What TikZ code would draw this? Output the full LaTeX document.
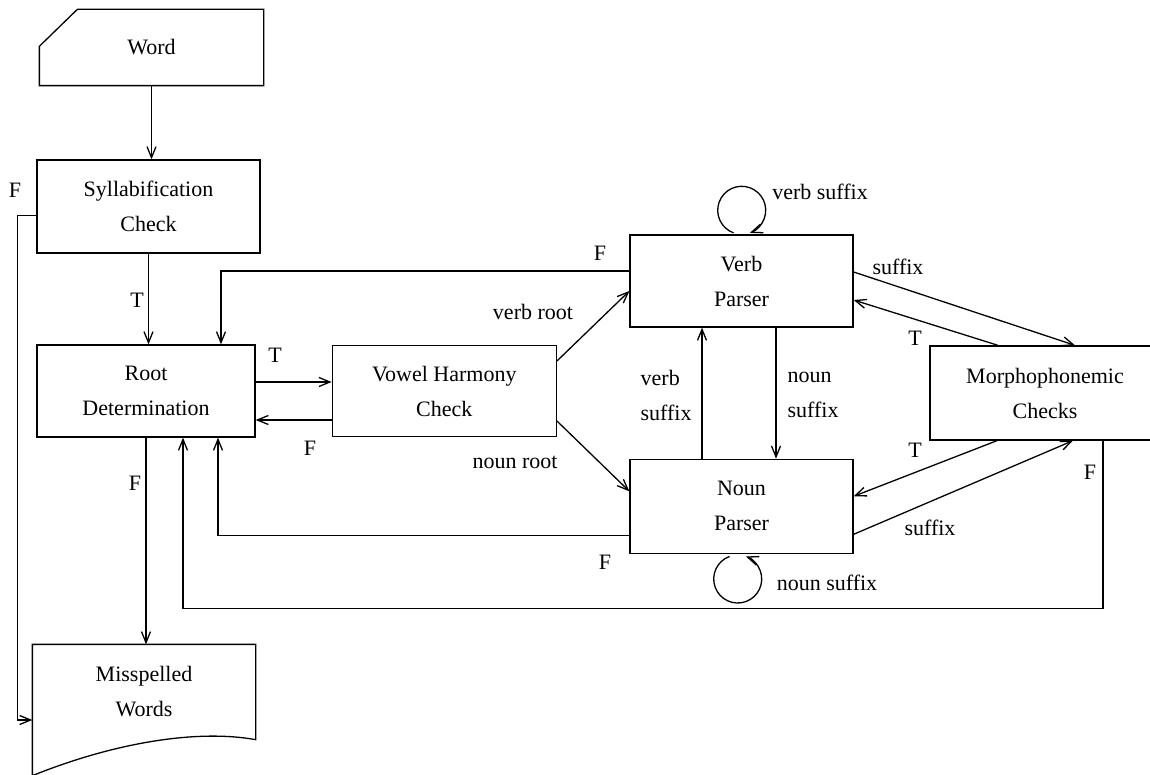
\documentclass[tikz,border=0pt]{standalone}
\usepackage{fontspec}
\setmainfont{Liberation Serif}
\usetikzlibrary{arrows.meta, positioning}

\begin{document}
\begin{tikzpicture}[
      x=1pt, y=1pt, line width=1.3pt,
      node distance=74pt and 74pt,
      box/.style={draw, minimum width=223pt, minimum height=92pt, inner sep=0pt,
        align=center, font=\fontsize{22}{35}\selectfont},
      lbl/.style={inner sep=0pt, font=\fontsize{22}{25}\selectfont},
      arr/.style={-{Straight Barb[length=11pt, width=9pt]}}
    ]
    \path[use as bounding box, clip] (0,0) rectangle (1150,-775);

    % input card and output document
    \node[box, draw=none, minimum height=75pt] (word) at (151.5,-47.5) {Word};
    \draw (word.south west) -- ([yshift=-37pt]word.north west) -- ([xshift=38pt]word.north west)
      -- (word.north east) -- (word.south east) -- cycle;
    \node[box, draw=none, minimum width=222pt, minimum height=94pt] (miss) at (144,-692) {Misspelled\\Words};
    \draw (miss.south west) ++(0,-40) -- (miss.north west) -- (miss.north east) -- (miss.south east)
      .. controls +(-55,10) and +(87,35) .. ([yshift=-36pt]miss.south west);

    % processing boxes
    \node[box, minimum height=93pt] (syl) at (148.5,-206.5) {Syllabification\\Check};
    \node[box, minimum width=218pt] (root) at (146,-391) {Root\\Determination};
    \node[box, minimum width=224pt, minimum height=91pt, right=76pt of root] (vh) {Vowel Harmony\\Check};
    \node[box] (verb) at (741.5,-281) {Verb\\Parser};
    \node[box, minimum height=94pt, below=131pt of verb] (noun) {Noun\\Parser};
    \node[box, minimum width=230pt, minimum height=94pt] (morph) at (1045,-393) {Morphophonemic\\Checks};

    % main flow
    \draw[arr] (word.south) -- (word.south |- syl.north);
    \draw[arr] (syl.south) -- (syl.south |- root.north);
    \draw[arr] (root.south) -- (root.south |- miss.north);
    \draw[arr] ([yshift=-9pt]syl.west) -- ++(-19,0) |- ([yshift=-28pt]miss.west);
    \draw[arr] ([yshift=9pt]root.east) -- ([yshift=9pt]root.east -| vh.west);
    \draw[arr] ([yshift=-29pt]vh.west) -- ([yshift=-29pt]vh.west -| root.east);
    \draw[arr] ([yshift=30pt]vh.east) -- ([yshift=-10pt]verb.west);
    \draw[arr] ([yshift=-30pt]vh.east) -- ([yshift=15pt]noun.west);
    \draw[arr] ([yshift=10pt]verb.west) -| ([xshift=75pt]root.north);
    \draw[arr] ([yshift=-29pt]noun.west) -| ([xshift=72pt]root.south);
    \draw[arr] ([xshift=58pt]morph.south) -- ++(0,-168) -| ([xshift=37pt]root.south);

    % parsers
    \draw[arr] ([xshift=-39.5pt]noun.north) -- ([xshift=-39.5pt]verb.south);
    \draw[arr] ([xshift=34.5pt]verb.south) -- ([xshift=34.5pt]noun.north);
    \draw[arr] ([xshift=-8pt, yshift=1.5pt]verb.north) arc[start angle=250, end angle=-70, radius=24pt];
    \draw[arr] ([xshift=-12pt, yshift=-2.5pt]noun.south) arc[start angle=110, end angle=430, radius=24pt];
    \draw[arr] ([yshift=9pt]verb.east) -- ([xshift=30pt]morph.north);
    \draw[arr] ([xshift=-47pt]morph.north) -- ([yshift=-19pt]verb.east);
    \draw[arr] ([xshift=-48pt]morph.south) -- ([yshift=10pt]noun.east);
    \draw[arr] ([yshift=-28pt]noun.east) -- ([xshift=28pt]morph.south);

    % labels
    \node[lbl] (fsyl) at (15,-190) {F};
    \node[lbl] (tsyl) at (137,-300) {T};
    \node[lbl] (froot) at (135,-483) {F};
    \node[lbl] (troot) at (275,-355) {T};
    \node[lbl] (fvh) at (310,-448) {F};
    \node[lbl] (fverb) at (600,-253) {F};
    \node[lbl] (lvroot) at (533,-312) {verb root};
    \node[lbl] (lnroot) at (515,-462) {noun root};
    \node[lbl, anchor=west, align=left, font=\fontsize{22}{35}\selectfont] (lvsuf) at (640,-395) {verb\\suffix};
    \node[lbl, anchor=west, align=left, font=\fontsize{22}{35}\selectfont] (lnsuf) at (787,-395) {noun\\suffix};
    \node[lbl] (lvloop) at (820,-192) {verb suffix};
    \node[lbl] (lnloop) at (827,-583) {noun suffix};
    \node[lbl] (lsufv) at (898,-267) {suffix};
    \node[lbl] (tmv) at (915,-338) {T};
    \node[lbl] (tmn) at (915,-450) {T};
    \node[lbl] (lsufn) at (930,-528) {suffix};
    \node[lbl] (fmorph) at (1090,-472) {F};
    \node[lbl] (fnoun) at (605,-562) {F};
  \end{tikzpicture}
\end{document}
